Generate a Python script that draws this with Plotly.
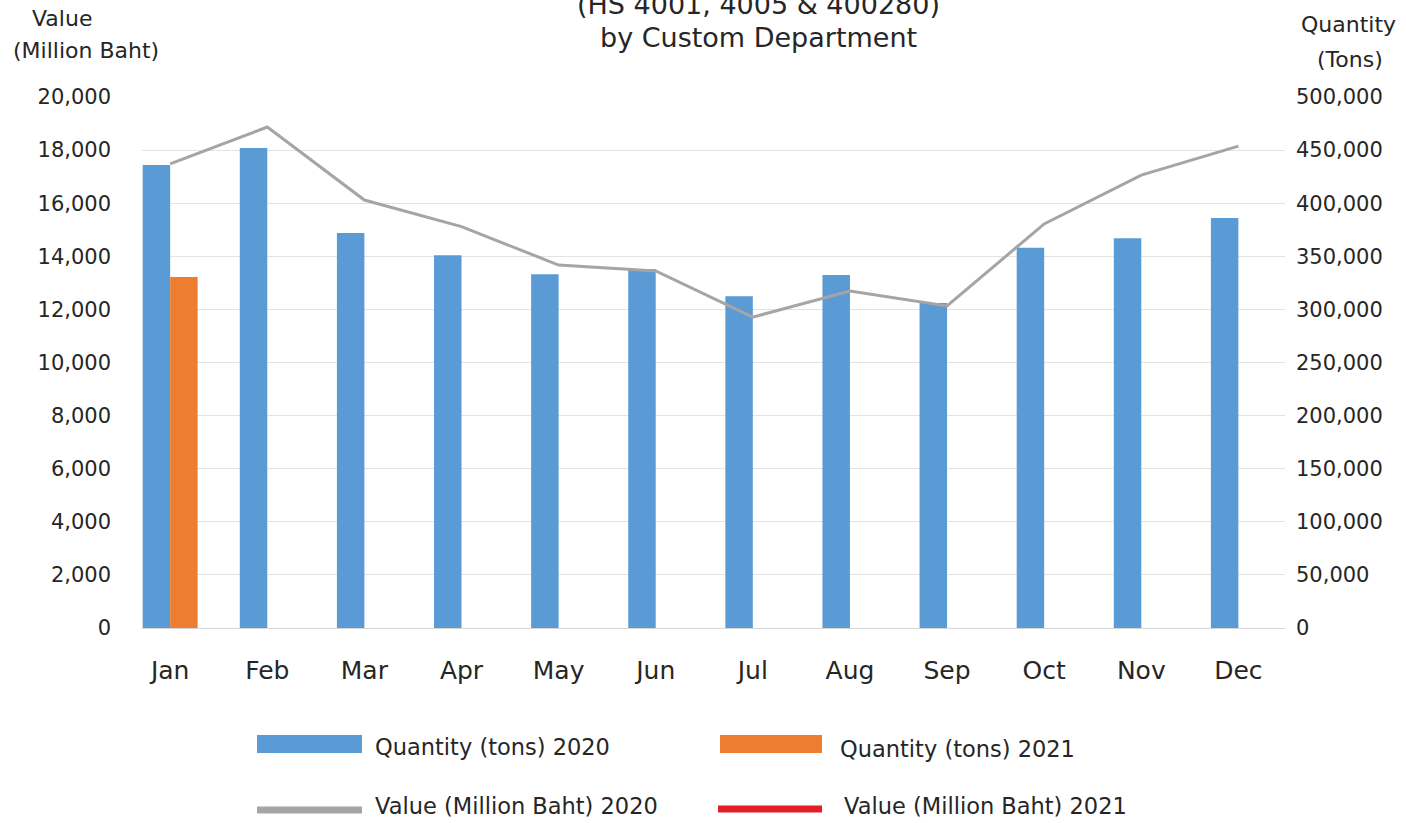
import plotly.graph_objects as go

# ---------------- data ----------------
months = ["Jan", "Feb", "Mar", "Apr", "May", "Jun", "Jul", "Aug", "Sep", "Oct", "Nov", "Dec"]
qty_2020 = [436000, 452000, 372000, 351000, 333000, 338000, 312500, 332500, 306000, 358000, 367000, 386000]
qty_2021 = [330500, None, None, None, None, None, None, None, None, None, None, None]
val_2020 = [17480, 18870, 16120, 15120, 13670, 13450, 11710, 12690, 12130, 15220, 17060, 18150]
val_2021 = [None] * 12

left_ticks = list(range(0, 20001, 2000))
right_ticks = list(range(0, 500001, 50000))

# ---------------- layout geometry (pixels) ----------------
W, H = 1406, 823
PL, PR, PT, PB = 142, 1285, 97, 628
FONT = "DejaVu Sans"
TXT = "#262626"


def fx(px):
    return (px - PL) / (PR - PL)


def fy(py):
    return (PB - py) / (PB - PT)


fig = go.Figure()

fig.add_trace(go.Bar(x=months, y=qty_2020, name="Quantity (tons) 2020",
                     marker=dict(color="#5B9BD5", line=dict(width=0)),
                     yaxis="y", showlegend=False))
fig.add_trace(go.Bar(x=months, y=qty_2021, name="Quantity (tons) 2021",
                     marker=dict(color="#ED7D31", line=dict(width=0)),
                     yaxis="y", showlegend=False))
fig.add_trace(go.Scatter(x=months, y=val_2020, name="Value (Million Baht) 2020",
                         mode="lines", line=dict(color="#A5A5A5", width=3),
                         yaxis="y2", showlegend=False))
fig.add_trace(go.Scatter(x=months, y=val_2021, name="Value (Million Baht) 2021",
                         mode="lines", line=dict(color="#E31E24", width=3),
                         yaxis="y2", showlegend=False))

fig.update_layout(
    width=W, height=H,
    margin=dict(l=PL, r=W - PR, t=PT, b=H - PB, pad=0),
    paper_bgcolor="white", plot_bgcolor="white",
    barmode="group", bargap=0.434, bargroupgap=0,
    font=dict(family=FONT, color=TXT),
    xaxis=dict(type="category", categoryorder="array", categoryarray=months,
               range=[-0.29, 11.48], showgrid=False, zeroline=False, showline=False,
               ticks="", tickfont=dict(size=25, color=TXT), ticklabelstandoff=25),
    yaxis=dict(side="right", range=[0, 500000], tickvals=right_ticks, tickformat=",d",
               showgrid=True, gridcolor="#E3E3E3", gridwidth=1,
               zeroline=True, zerolinecolor="#D9D9D9", zerolinewidth=1,
               showline=False, ticks="", tickfont=dict(size=21, color=TXT),
               ticklabelstandoff=10),
    yaxis2=dict(side="left", overlaying="y", range=[0, 20000], tickvals=left_ticks,
                tickformat=",d", showgrid=False, zeroline=False, showline=False,
                ticks="", tickfont=dict(size=21, color=TXT), ticklabelstandoff=30),
)

annotations = [
    dict(text="(HS 4001, 4005 & 400280)", x=fx(758), y=fy(5), font=dict(size=27)),
    dict(text="by Custom Department", x=fx(758), y=fy(38), font=dict(size=27)),
    dict(text="Value", x=fx(62), y=fy(18), font=dict(size=22)),
    dict(text="(Million Baht)", x=fx(86), y=fy(51), font=dict(size=22)),
    dict(text="Quantity", x=fx(1348), y=fy(25), font=dict(size=22)),
    dict(text="(Tons)", x=fx(1350), y=fy(60), font=dict(size=22)),
]
for a in annotations:
    a.update(xref="paper", yref="paper", showarrow=False, xanchor="center", yanchor="middle")

legend_items = [
    ("Quantity (tons) 2020", "rect", "#5B9BD5", 257, 362, 744, 373, 747),
    ("Quantity (tons) 2021", "rect", "#ED7D31", 720, 822, 744, 838, 749),
    ("Value (Million Baht) 2020", "line", "#A5A5A5", 257, 362, 810, 373, 806),
    ("Value (Million Baht) 2021", "line", "#E31E24", 718, 822, 809, 842, 806),
]
shapes = []
for label, kind, color, x0, x1, yc, tx, ty in legend_items:
    if kind == "rect":
        shapes.append(dict(type="rect", xref="paper", yref="paper",
                           x0=fx(x0), x1=fx(x1), y0=fy(yc - 9), y1=fy(yc + 9),
                           fillcolor=color, line=dict(width=0)))
    else:
        shapes.append(dict(type="line", xref="paper", yref="paper",
                           x0=fx(x0), x1=fx(x1), y0=fy(yc), y1=fy(yc),
                           line=dict(color=color, width=7)))
    annotations.append(dict(text=label, xref="paper", yref="paper", x=fx(tx), y=fy(ty),
                            xanchor="left", yanchor="middle", showarrow=False,
                            font=dict(size=22.5)))

fig.update_layout(annotations=annotations, shapes=shapes)

fig.write_html("out.html")
